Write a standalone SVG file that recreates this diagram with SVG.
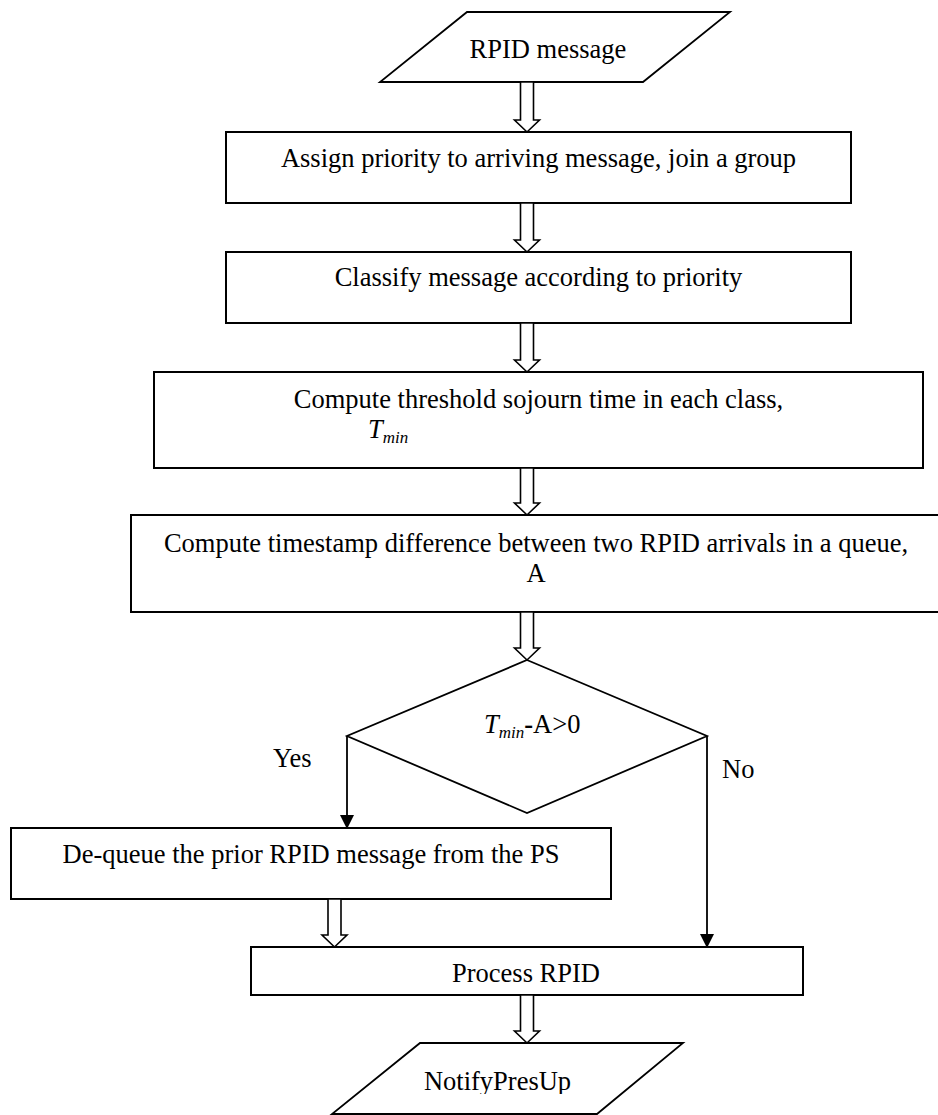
<svg xmlns="http://www.w3.org/2000/svg" width="938" height="1115" viewBox="0 0 938 1115">
  <style>
    .box { fill: #fff; stroke: #000; stroke-width: 2; }
    .shape { fill: #fff; stroke: #000; stroke-width: 1.8; }
    .lbl { font-family: "Liberation Serif", "Times New Roman", serif; font-size: 26.5px; fill: #000; }
    .mid { text-anchor: middle; }
    .it { font-style: italic; }
    .sub { font-style: italic; font-size: 17px; }
    .hollow { fill: #fff; stroke: #000; stroke-width: 1.6; stroke-linejoin: miter; }
    .flow { fill: none; stroke: #000; stroke-width: 1.8; }
  </style>
  <defs>
    <marker id="ah" viewBox="0 0 14 14" refX="13" refY="7" markerWidth="14" markerHeight="14" orient="auto" markerUnits="userSpaceOnUse">
      <path d="M0,0 L14,7 L0,14 Z" fill="#000"/>
    </marker>
    <clipPath id="notifyClip">
      <rect x="0" y="1044" width="938" height="50"/>
    </clipPath>
  </defs>

  <rect width="938" height="1115" fill="#fff"/>

  <!-- input: RPID message -->
  <g id="rpid-message">
    <polygon class="shape" points="467,12 730,12 643,82 380,82"/>
    <text class="lbl mid" x="548" y="58">RPID message</text>
  </g>

  <!-- step: assign priority -->
  <g id="assign-priority">
    <rect class="box" x="226" y="132" width="625" height="71"/>
    <text class="lbl mid" x="538.5" y="167">Assign priority to arriving message, join a group</text>
  </g>

  <!-- step: classify -->
  <g id="classify">
    <rect class="box" x="226" y="252" width="625" height="71"/>
    <text class="lbl mid" x="538.5" y="286">Classify message according to priority</text>
  </g>

  <!-- step: threshold sojourn time -->
  <g id="threshold">
    <rect class="box" x="154" y="372" width="769" height="96"/>
    <text class="lbl mid" x="538.5" y="408">Compute threshold sojourn time in each class,</text>
    <text class="lbl" x="368" y="438"><tspan class="it">T</tspan><tspan class="sub" dy="5">min</tspan></text>
  </g>

  <!-- step: timestamp difference -->
  <g id="timestamp-diff">
    <rect class="box" x="131" y="515" width="812" height="97"/>
    <text class="lbl mid" x="536" y="552">Compute timestamp difference between two RPID arrivals in a queue,</text>
    <text class="lbl mid" x="536" y="582">A</text>
  </g>

  <!-- decision -->
  <g id="decision">
    <polygon class="shape" points="527,660 707,736 527,813 347,736"/>
    <text class="lbl" x="484" y="733"><tspan class="it">T</tspan><tspan class="sub" dy="5">min</tspan><tspan dy="-5" font-weight="bold">-</tspan>A&gt;0</text>
  </g>

  <!-- step: de-queue -->
  <g id="dequeue">
    <rect class="box" x="11" y="828" width="600" height="71"/>
    <text class="lbl mid" x="311" y="863">De-queue the prior RPID message from the PS</text>
  </g>

  <!-- step: process -->
  <g id="process">
    <rect class="box" x="251" y="947" width="552" height="48"/>
    <text class="lbl mid" x="526" y="982">Process RPID</text>
  </g>

  <!-- output: NotifyPresUp -->
  <g id="notify">
    <polygon class="shape" points="420,1043 683,1043 597,1114 332,1114"/>
    <text class="lbl mid" x="497.5" y="1090" clip-path="url(#notifyClip)">NotifyPresUp</text>
  </g>

  <!-- connectors -->
  <g id="connectors">
    <path class="hollow" d="M520.5,82 V120 H514.5 L527,132 L539.5,120 H533.5 V82 Z"/>
    <path class="hollow" d="M520.5,203 V240 H514.5 L527,252 L539.5,240 H533.5 V203 Z"/>
    <path class="hollow" d="M520.5,323 V360 H514.5 L527,372 L539.5,360 H533.5 V323 Z"/>
    <path class="hollow" d="M520.5,468 V503 H514.5 L527,515 L539.5,503 H533.5 V468 Z"/>
    <path class="hollow" d="M520.5,612 V648 H514.5 L527,660 L539.5,648 H533.5 V612 Z"/>
    <path class="hollow" d="M328,899 V935 H322 L334.5,947 L347,935 H341 V899 Z"/>
    <path class="hollow" d="M520.5,995 V1031 H514.5 L527,1043 L539.5,1031 H533.5 V995 Z"/>
    <path class="flow" d="M347,736 V828" marker-end="url(#ah)"/>
    <path class="flow" d="M707,736 V947" marker-end="url(#ah)"/>
    <text class="lbl" x="273" y="767">Yes</text>
    <text class="lbl" x="722" y="778">No</text>
  </g>
</svg>
